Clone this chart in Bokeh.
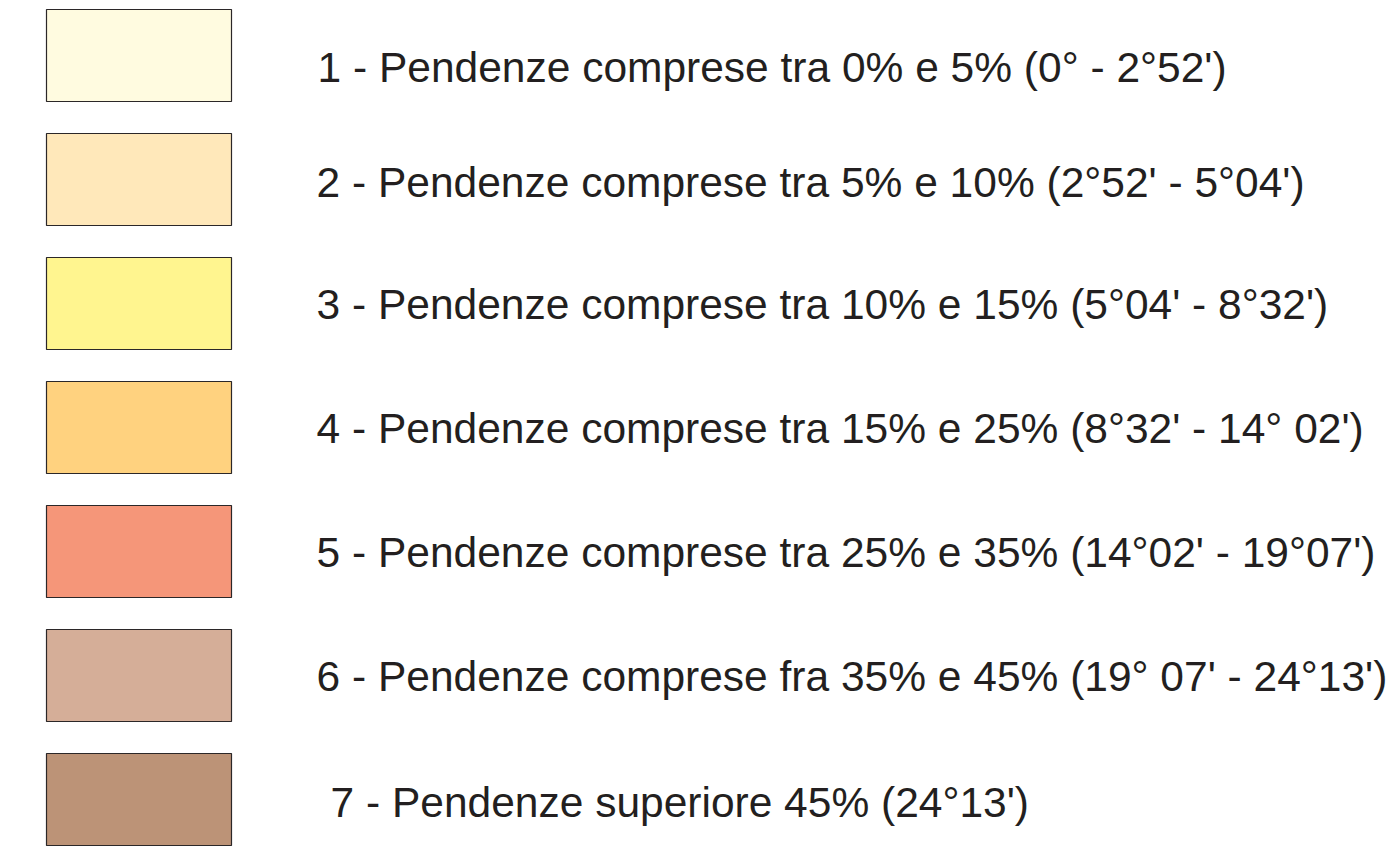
from bokeh.plotting import figure
from bokeh.models import Range1d, ColumnDataSource
from bokeh.core.properties import value
from bokeh.embed import file_html
from bokeh.resources import INLINE

# ---- data ----
labels = [
    "1 - Pendenze comprese tra 0% e 5% (0° - 2°52')",
    "2 - Pendenze comprese tra 5% e 10% (2°52' - 5°04')",
    "3 - Pendenze comprese tra 10% e 15% (5°04' - 8°32')",
    "4 - Pendenze comprese tra 15% e 25% (8°32' - 14° 02')",
    "5 - Pendenze comprese tra 25% e 35% (14°02' - 19°07')",
    "6 - Pendenze comprese fra 35% e 45% (19° 07' - 24°13')",
    "7 - Pendenze superiore 45% (24°13')",
]
colors = ["#FFFBE0", "#FFE8BA", "#FFF58F", "#FFD27F", "#F59679", "#D5AE98", "#BC9377"]

# ---- layout (pixels) ----
row_top0 = 9
row_step = 124
box_h = 92
box_left, box_right = 46, 231
text_x = [317, 316, 316, 316, 316, 316, 330]
baseline_off = [58, 49, 47, 47, 47, 47, 49]

tops = [row_top0 + i * row_step for i in range(len(labels))]
src = ColumnDataSource(dict(
    top=tops,
    bottom=[t + box_h for t in tops],
    left=[box_left] * len(labels),
    right=[box_right] * len(labels),
    color=colors,
    tx=text_x,
    ty=[t + o for t, o in zip(tops, baseline_off)],
    label=labels,
))

W, H = 1389, 847
p = figure(width=W, height=H, output_backend="svg", toolbar_location=None,
           x_range=Range1d(0, W), y_range=Range1d(H, 0),
           min_border=0)
p.axis.visible = False
p.grid.visible = False
p.outline_line_color = None
p.background_fill_color = "white"
p.border_fill_color = "white"

p.quad(left="left", right="right", top="top", bottom="bottom", source=src,
       fill_color="color", line_color="#2b2728", line_width=1.2)
p.text(x="tx", y="ty", text="label", source=src,
       text_font=value("Liberation Sans"), text_font_size="42.5px",
       text_color="#231F20", text_baseline="alphabetic", text_align="left")

open("out.html", "w").write(file_html(p, INLINE))
